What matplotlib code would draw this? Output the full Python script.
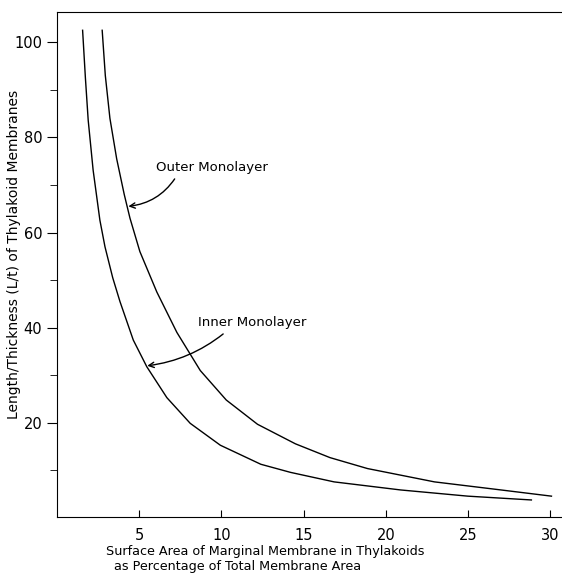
import numpy as np
import matplotlib.pyplot as plt


# Data
inner_x = [1.57, 1.74, 1.91, 2.21, 2.62, 2.93, 3.4, 3.84, 4.65, 5.47, 6.69, 8.11, 9.94,
           12.4, 14.2, 16.85, 20.9, 24.98, 28.84]
inner_y = [102.5, 92.5, 83.6, 73.1, 62.6, 57.0, 50.5, 45.5, 37.4, 31.8, 25.3, 19.9, 15.3,
           11.3, 9.6, 7.6, 5.9, 4.6, 3.8]

outer_x = [2.76, 2.95, 3.23, 3.64, 4.1, 4.45, 5.05, 6.08, 7.3, 8.72, 10.3, 12.2, 14.5,
           16.6, 18.88, 22.95, 27.0, 30.06]
outer_y = [102.5, 93.0, 84.0, 75.5, 68.0, 63.0, 56.0, 47.5, 39.0, 31.0, 24.8, 19.7, 15.6,
           12.7, 10.4, 7.6, 5.9, 4.6]

x_ticks = [5, 10, 15, 20, 25, 30]
y_ticks = [20, 40, 60, 80, 100]
y_minor = [10, 30, 50, 70, 90]


# Figure
fig = plt.figure(figsize=(5.62, 5.81), dpi=100)
ax = fig.add_axes([0.101, 0.110, 0.899, 0.869])

ax.plot(inner_x, inner_y, color='black', lw=1.0)
ax.plot(outer_x, outer_y, color='black', lw=1.0)

ax.set_xlim(0, 30.7)
ax.set_ylim(0.2, 106.3)
ax.spines['right'].set_visible(False)

ax.set_xticks(x_ticks)
ax.set_yticks(y_ticks)
ax.set_yticks(y_minor, minor=True)
ax.tick_params(axis='x', direction='in', length=5, labelsize=10.5, pad=8)
ax.tick_params(axis='y', which='major', direction='out', length=7, labelsize=10.5)
ax.tick_params(axis='y', which='minor', direction='out', length=5)


# Annotations
ax.annotate("Outer Monolayer", xy=(4.35, 65.5), xytext=(6.0, 73.7),
            fontsize=9.5, va='center', ha='left',
            arrowprops=dict(arrowstyle='->', color='black', lw=1.0,
                            shrinkA=2, shrinkB=0,
                            connectionstyle='arc3,rad=-0.25',
                            relpos=(0.2, 0.0)))
ax.annotate("Inner Monolayer", xy=(5.5, 32.0), xytext=(8.6, 41.0),
            fontsize=9.5, va='center', ha='left',
            arrowprops=dict(arrowstyle='->', color='black', lw=1.0,
                            shrinkA=2, shrinkB=0,
                            connectionstyle='arc3,rad=-0.15',
                            relpos=(0.28, 0.0)))


# Labels
ax.set_ylabel("Length/Thickness (L/t) of Thylakoid Membranes", fontsize=10)
ax.yaxis.set_label_coords(-0.07, 0.52)
ax.set_xlabel("Surface Area of Marginal Membrane in Thylakoids\n  as Percentage of Total Membrane Area",
              fontsize=9.2, ha='left', multialignment='left')
ax.xaxis.set_label_coords(0.097, -0.055)
ax.xaxis.label.set_va('top')

plt.savefig("out.png", dpi=100)
